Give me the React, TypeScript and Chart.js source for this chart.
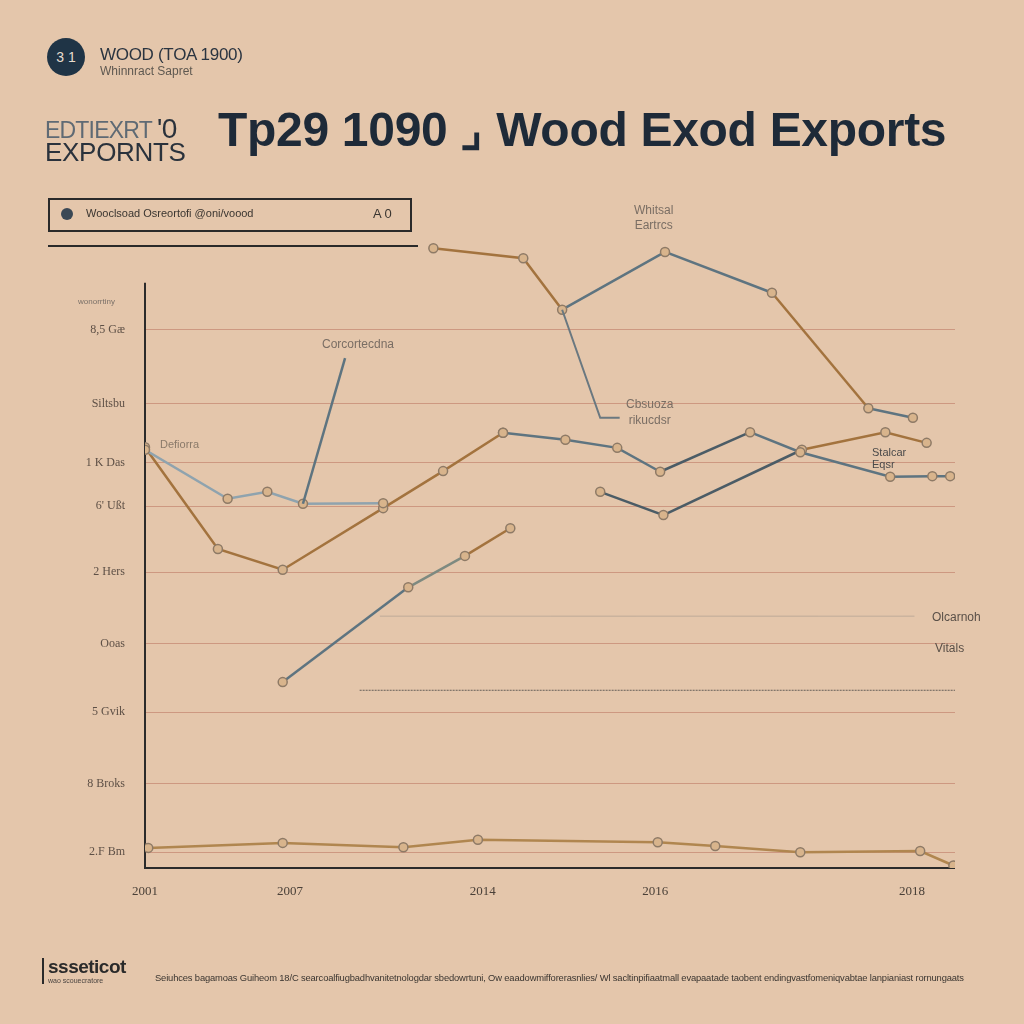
import React, { useEffect, useRef } from 'react';
import { Chart, registerables } from 'chart.js';

Chart.register(...registerables);

// ---- axis ticks ----
const xTickValues = [0, 17.9, 41.7, 63, 94.7];
const xTickLabels = ['2001', '2007', '2014', '2016', '2018'];
const yTickValues = [85.7, 73.9, 64.5, 57.6, 47.1, 35.7, 24.8, 13.4, 2.5];
const yTickLabels = ['8,5 Gæ', 'Siltsbu', '1 K Das', '6\' Ußt', '2 Hers', 'Ooas', '5 Gvik', '8 Broks', '2.F Bm'];

// ---- series ----
const woodBrownX = [0, 9.0, 17.0, 29.4, 36.8, 44.2];
const woodBrownY = [67.0, 50.8, 47.5, 57.3, 63.2, 69.3];

const woodGrayX = [44.2, 51.9, 58.3, 63.6, 74.7, 80.9, 92.0, 97.2, 99.4];
const woodGrayY = [69.3, 68.2, 66.9, 63.1, 69.4, 66.2, 62.3, 62.4, 62.4];

const lightX = [0, 10.2, 15.1, 19.5, 29.4];
const lightY = [66.6, 58.8, 59.9, 58.0, 58.1];

const lowerX = [17.0, 32.5, 39.5, 45.1];
const lowerY = [29.6, 44.7, 49.7, 54.1];

const topX = [35.6, 46.7, 51.5, 64.2, 77.4, 89.3, 94.8];
const topY = [98.7, 97.1, 88.9, 98.1, 91.6, 73.2, 71.7];

const midX = [56.2, 64.0, 81.1, 91.4, 96.5];
const midY = [59.9, 56.2, 66.6, 69.4, 67.7];

const baseX = [0.4, 17.0, 31.9, 41.1, 63.3, 70.4, 80.9, 95.7, 99.8];
const baseY = [3.2, 4.0, 3.3, 4.5, 4.1, 3.5, 2.5, 2.7, 0.4];

// callout leader lines
const leader1X = [19.5, 24.7];
const leader1Y = [58.0, 81.2];
const leader2X = [51.5, 56.2, 58.6];
const leader2Y = [88.9, 71.7, 71.7];

const BROWN = '#A3733E';
const GRAYBLUE = '#5E7480';
const LIGHTBLUE = '#8FA3AE';
const DARKGRAY = '#4B5C66';
const BG = '#E4C6AB';

const pts = (xs: number[], ys: number[]) => xs.map((x, i) => ({ x, y: ys[i] }));

const App = () => {
  const ref = useRef<HTMLCanvasElement | null>(null);

  useEffect(() => {
    if (!ref.current) return;
    const segColors = (cols: string[]) => ({
      borderColor: (ctx: any) => cols[ctx.p0DataIndex] || cols[cols.length - 1],
    });
    const marker = {
      pointRadius: 4.5,
      pointBackgroundColor: '#D8B48C',
      pointBorderColor: '#8E7A66',
      pointBorderWidth: 1.5,
    };

    const extraLines = {
      id: 'extraLines',
      beforeDatasetsDraw(chart: any) {
        const { ctx, scales } = chart;
        const x = scales.x;
        const y = scales.y;
        ctx.save();
        ctx.strokeStyle = 'rgba(120,120,120,0.35)';
        ctx.lineWidth = 1;
        ctx.beginPath();
        ctx.moveTo(x.getPixelForValue(29), y.getPixelForValue(40.1));
        ctx.lineTo(x.getPixelForValue(95), y.getPixelForValue(40.1));
        ctx.stroke();
        ctx.strokeStyle = 'rgba(60,60,60,0.75)';
        ctx.setLineDash([2, 1]);
        ctx.beginPath();
        ctx.moveTo(x.getPixelForValue(26.5), y.getPixelForValue(28.3));
        ctx.lineTo(x.getPixelForValue(100), y.getPixelForValue(28.3));
        ctx.stroke();
        ctx.setLineDash([]);
        ctx.strokeStyle = '#2B2B2B';
        ctx.lineWidth = 2;
        ctx.beginPath();
        ctx.moveTo(x.getPixelForValue(0), y.getPixelForValue(93.2));
        ctx.lineTo(x.getPixelForValue(0), y.getPixelForValue(0));
        ctx.lineTo(x.getPixelForValue(100), y.getPixelForValue(0));
        ctx.stroke();
        ctx.restore();
      },
    };

    const chart = new Chart(ref.current, {
      type: 'line',
      data: {
        datasets: [
          { data: pts(baseX, baseY), borderColor: '#B0864F', borderWidth: 2.5, ...marker },
          { data: pts(leader1X, leader1Y), borderColor: GRAYBLUE, borderWidth: 2.5, pointRadius: 0 },
          { data: pts(leader2X, leader2Y), borderColor: '#6A7880', borderWidth: 2, pointRadius: 0 },
          { data: pts(lightX, lightY), borderColor: LIGHTBLUE, borderWidth: 2.5, ...marker },
          { data: pts(woodBrownX, woodBrownY), borderColor: BROWN, borderWidth: 2.5, ...marker },
          {
            data: pts(woodGrayX, woodGrayY),
            borderColor: GRAYBLUE,
            borderWidth: 2.5,
            segment: segColors([GRAYBLUE, GRAYBLUE, GRAYBLUE, DARKGRAY, GRAYBLUE, GRAYBLUE, GRAYBLUE, GRAYBLUE]),
            ...marker,
          },
          {
            data: pts(lowerX, lowerY),
            borderColor: GRAYBLUE,
            borderWidth: 2.5,
            segment: segColors([GRAYBLUE, '#7E8A80', BROWN]),
            ...marker,
          },
          {
            data: pts(topX, topY),
            borderColor: BROWN,
            borderWidth: 2.5,
            segment: segColors([BROWN, BROWN, GRAYBLUE, GRAYBLUE, BROWN, GRAYBLUE]),
            ...marker,
          },
          {
            data: pts(midX, midY),
            borderColor: DARKGRAY,
            borderWidth: 2.5,
            segment: segColors([DARKGRAY, DARKGRAY, BROWN, BROWN]),
            ...marker,
          },
        ],
      },
      options: {
        animation: false,
        responsive: false,
        maintainAspectRatio: false,
        layout: { padding: { top: 240, right: 69, left: 0, bottom: 0 } },
        plugins: { legend: { display: false }, tooltip: { enabled: false } },
        elements: { line: { tension: 0 } },
        scales: {
          x: {
            type: 'linear',
            min: 0,
            max: 100,
            border: { display: false },
            grid: { display: false },
            afterBuildTicks: (s: any) => {
              s.ticks = xTickValues.map((v) => ({ value: v }));
            },
            afterFit: (s: any) => {
              s.height = 156;
            },
            ticks: {
              autoSkip: false,
              maxRotation: 0,
              padding: 8,
              color: '#4A4038',
              font: { family: 'Liberation Serif', size: 13 },
              callback: (v: any) => {
                const i = xTickValues.indexOf(v);
                return i >= 0 ? xTickLabels[i] : '';
              },
            },
          },
          y: {
            type: 'linear',
            min: 0,
            max: 100,
            border: { display: false },
            grid: { color: 'rgba(185,115,95,0.55)', lineWidth: 1, drawTicks: false },
            afterBuildTicks: (s: any) => {
              s.ticks = yTickValues.map((v) => ({ value: v }));
            },
            afterFit: (s: any) => {
              s.width = 145;
            },
            ticks: {
              autoSkip: false,
              padding: 20,
              color: '#5E5046',
              font: { family: 'Liberation Serif', size: 12 },
              callback: (v: any) => {
                const i = yTickValues.indexOf(v);
                return i >= 0 ? yTickLabels[i] : '';
              },
            },
          },
        },
      } as any,
      plugins: [extraLines],
    });
    return () => chart.destroy();
  }, []);

  const abs = (style: React.CSSProperties): React.CSSProperties => ({ position: 'absolute', whiteSpace: 'nowrap', ...style });
  const note: React.CSSProperties = { fontFamily: 'Liberation Sans, sans-serif', fontSize: 12, color: '#7A6E64' };

  return (
    <div style={{ position: 'fixed', left: 0, top: 0, width: 1024, height: 1024, background: BG, overflow: 'hidden' }}>
      <canvas ref={ref} width={1024} height={1024} style={{ position: 'absolute', left: 0, top: 0, width: 1024, height: 1024 }} />

      {/* badge */}
      <div style={abs({ left: 47, top: 38, width: 38, height: 38, borderRadius: '50%', background: '#1F3446', color: '#E8DCCD', fontFamily: 'Liberation Sans, sans-serif', fontSize: 14, lineHeight: '38px', textAlign: 'center' })}>3 1</div>
      <div style={abs({ left: 100, top: 45, fontFamily: 'Liberation Sans, sans-serif', fontSize: 17, color: '#2A3440', letterSpacing: -0.3 })}>WOOD (TOA 1900)</div>
      <div style={abs({ left: 100, top: 64, fontFamily: 'Liberation Sans, sans-serif', fontSize: 12, color: '#5E5850' })}>Whinnract Sapret</div>

      {/* left title block */}
      <div style={abs({ left: 45, top: 113, fontFamily: 'Liberation Sans, sans-serif', fontSize: 23, color: '#5F6A74', letterSpacing: -0.8 })}>EDTIEXRT <span style={{ fontSize: 28, color: '#2A323C' }}>'0</span></div>
      <div style={abs({ left: 45, top: 137, fontFamily: 'Liberation Sans, sans-serif', fontSize: 26, color: '#2A323C', letterSpacing: -0.3 })}>EXPORNTS</div>

      {/* main title */}
      <div style={abs({ left: 218, top: 101, fontFamily: 'Liberation Sans, sans-serif', fontWeight: 'bold', fontSize: 48, color: '#1E2A38', letterSpacing: -0.3 })}>Tp29 1090 ⌟ Wood Exod Exports</div>

      {/* legend box */}
      <div style={abs({ left: 48, top: 198, width: 360, height: 30, border: '2px solid #2A2A2A' })} />
      <div style={abs({ left: 61, top: 208, width: 12, height: 12, borderRadius: '50%', background: '#3A4855' })} />
      <div style={abs({ left: 86, top: 207, fontFamily: 'Liberation Sans, sans-serif', fontSize: 11, color: '#3A3530' })}>Wooclsoad Osreortofi @oni/voood</div>
      <div style={abs({ left: 373, top: 206, fontFamily: 'Liberation Sans, sans-serif', fontSize: 13, color: '#3A3530' })}>A 0</div>
      <div style={abs({ left: 48, top: 245, width: 370, height: 2, background: '#2A2A2A' })} />

      {/* callouts */}
      <div style={abs({ ...note, left: 634, top: 203, lineHeight: '15px', textAlign: 'center' })}>Whitsal<br />Eartrcs</div>
      <div style={abs({ ...note, left: 322, top: 337 })}>Corcortecdna</div>
      <div style={abs({ ...note, left: 160, top: 438, fontSize: 11, color: '#8A7A6A' })}>Defiorra</div>
      <div style={abs({ ...note, left: 626, top: 396, lineHeight: '16px', textAlign: 'center' })}>Cbsuoza<br />rikucdsr</div>
      <div style={abs({ ...note, left: 872, top: 446, fontSize: 11, color: '#4A4A4A', lineHeight: '12px' })}>Stalcar<br />Eqsr</div>
      <div style={abs({ ...note, left: 932, top: 610, color: '#5A5048' })}>Olcarnoh</div>
      <div style={abs({ ...note, left: 935, top: 641, color: '#5A5048' })}>Vitals</div>
      <div style={abs({ left: 78, top: 297, fontFamily: 'Liberation Sans, sans-serif', fontSize: 8, color: '#7A7068' })}>wonorrtiny</div>

      {/* footer */}
      <div style={abs({ left: 42, top: 958, width: 2, height: 26, background: '#2A2A2A' })} />
      <div style={abs({ left: 48, top: 956, fontFamily: 'Liberation Sans, sans-serif', fontWeight: 'bold', fontSize: 19, color: '#2A2A2A', letterSpacing: -0.5 })}>ssseticot</div>
      <div style={abs({ left: 48, top: 977, fontFamily: 'Liberation Sans, sans-serif', fontSize: 7, color: '#4A4440' })}>wao scouecratore</div>
      <div style={abs({ left: 155, top: 972, fontFamily: 'Liberation Sans, sans-serif', fontSize: 9.4, color: '#3A3530', letterSpacing: -0.15 })}>Seiuhces bagamoas Guiheom 18/C searcoalfiugbadhvanitetnologdar sbedowrtuni, Ow eaadowmifforerasnlies/ Wl sacltinpifiaatmall evapaatade taobent endingvastfomeniqvabtae lanpianiast rornungaats</div>
    </div>
  );
};

export default App;
